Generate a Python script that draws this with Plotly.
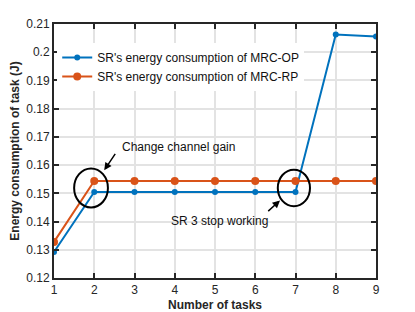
import plotly.graph_objects as go

tasks = [1, 2, 3, 4, 5, 6, 7, 8, 9]
mrc_op = [0.1292, 0.1505, 0.1505, 0.1505, 0.1505, 0.1505, 0.1505, 0.2063, 0.2056]
mrc_rp = [0.1328, 0.1544, 0.1544, 0.1544, 0.1544, 0.1544, 0.1544, 0.1544, 0.1544]
x_ticks = [1, 2, 3, 4, 5, 6, 7, 8, 9]
y_ticks = [0.12, 0.13, 0.14, 0.15, 0.16, 0.17, 0.18, 0.19, 0.2, 0.21]
y_tick_text = ["0.12", "0.13", "0.14", "0.15", "0.16", "0.17", "0.18", "0.19", "0.2", "0.21"]

FONT = "Liberation Sans, Arial, sans-serif"

fig = go.Figure()
fig.add_trace(go.Scatter(
    x=tasks, y=mrc_op, mode="lines+markers",
    name="SR's energy consumption of MRC-OP",
    line=dict(color="#0072BD", width=2),
    marker=dict(color="#0072BD", size=6),
))
fig.add_trace(go.Scatter(
    x=tasks, y=mrc_rp, mode="lines+markers",
    name="SR's energy consumption of MRC-RP",
    line=dict(color="#D95319", width=2),
    marker=dict(color="#D95319", size=8),
))

# ellipses
fig.add_shape(type="circle", xref="x", yref="y",
              x0=1.50, x1=2.34, y0=0.1450, y1=0.1588,
              line=dict(color="black", width=2))
fig.add_shape(type="circle", xref="x", yref="y",
              x0=6.56, x1=7.36, y0=0.1454, y1=0.1584,
              line=dict(color="black", width=2))

fig.add_annotation(x=2.248, y=0.1582, ax=2.546, ay=0.1645, axref="x", ayref="y",
                   xref="x", yref="y", text="", showarrow=True,
                   arrowhead=2, arrowsize=1, arrowwidth=1.5, arrowcolor="black")
fig.add_annotation(x=6.615, y=0.1475, ax=6.285, ay=0.1432, axref="x", ayref="y",
                   xref="x", yref="y", text="", showarrow=True,
                   arrowhead=2, arrowsize=1, arrowwidth=1.5, arrowcolor="black")
fig.add_annotation(x=2.648, y=0.1664, xref="x", yref="y", text="Change channel gain",
                   showarrow=False, xanchor="left", yanchor="middle",
                   font=dict(family=FONT, size=12, color="#111"))
fig.add_annotation(x=5.10, y=0.1402, xref="x", yref="y", text="SR 3 stop working",
                   showarrow=False, xanchor="center", yanchor="middle",
                   font=dict(family=FONT, size=12, color="#111"))

axis_common = dict(
    showline=True, linecolor="#262626", linewidth=2, mirror="ticks",
    ticks="inside", ticklen=5, tickwidth=1.5, tickcolor="#262626",
    showgrid=True, gridcolor="#e3e3e3", gridwidth=1.5,
    zeroline=False, automargin=False,
    tickfont=dict(family=FONT, size=12, color="#262626"),
)

fig.update_xaxes(range=[1, 9], tickvals=x_ticks,
                 title=dict(text="<b>Number of tasks</b>", standoff=4,
                            font=dict(family=FONT, size=12, color="#262626")),
                 **axis_common)
fig.update_yaxes(range=[0.12, 0.21], tickvals=y_ticks, ticktext=y_tick_text,
                 title=dict(text="<b>Energy consumption of task (J)</b>", standoff=4,
                            font=dict(family=FONT, size=12, color="#262626")),
                 **axis_common)

fig.update_layout(
    width=407, height=304,
    margin=dict(l=46, r=39, t=16, b=34),
    plot_bgcolor="white", paper_bgcolor="white",
    font=dict(family=FONT, size=12),
    legend=dict(x=0.01, y=0.925, xanchor="left", yanchor="top",
                bgcolor="white", borderwidth=0,
                font=dict(family=FONT, size=12, color="#111"),
                tracegroupgap=0, itemwidth=30),
    showlegend=True,
)

fig.write_html("out.html")
